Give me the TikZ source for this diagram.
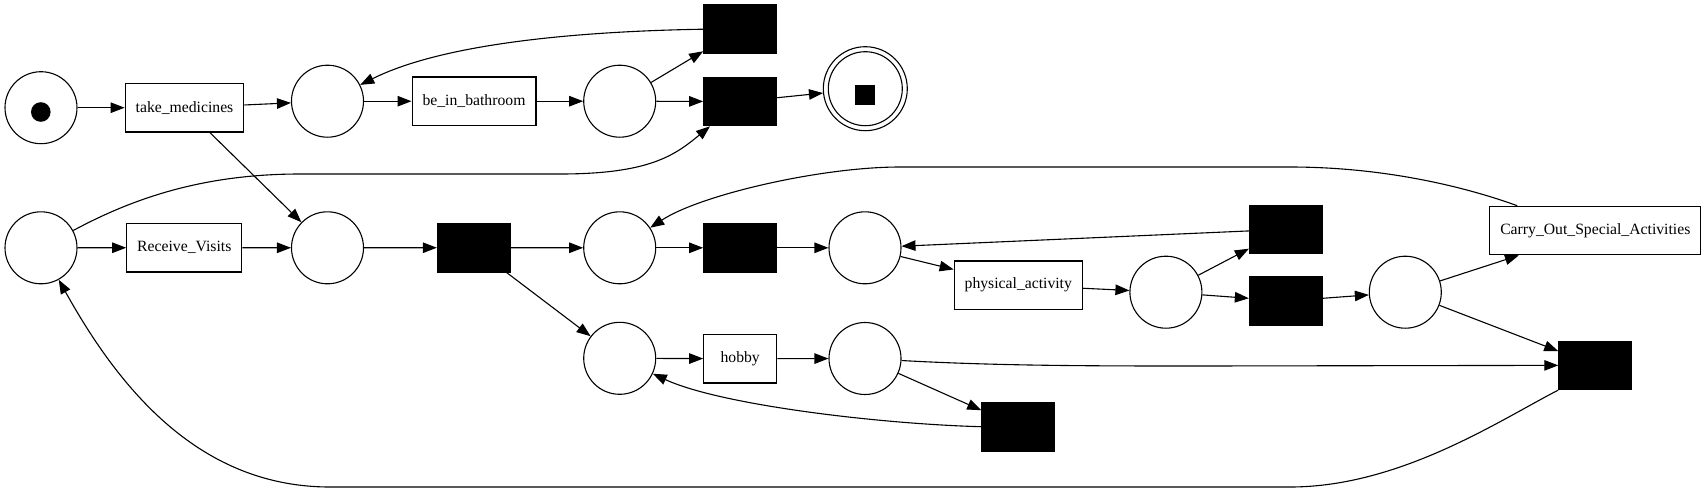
\documentclass[tikz,border=0pt]{standalone}
\usepackage{fontspec}
\setmainfont{Liberation Serif}
\usetikzlibrary{arrows.meta}
\begin{document}
\begin{tikzpicture}[x=1pt,y=-1pt,
  every node/.style={font=\fontsize{15.7}{18}\selectfont},
  place/.style={circle,draw,line width=1.1pt,minimum size=72pt,inner sep=0pt},
  trans/.style={rectangle,draw,line width=1.1pt,minimum width=73pt,minimum height=48.5pt,inner xsep=10.5pt,inner ysep=0pt},
  blk/.style={rectangle,draw,fill=black,line width=1.1pt,minimum width=73pt,minimum height=48.5pt,inner sep=0pt},
  arr/.style={-{Triangle[length=14pt,width=10.5pt]},line width=1.1pt}]
\useasboundingbox (0,0) rectangle (1707,493);
% places
\node[place] (ps) at (41,107.7) {};
\node[place] (p1) at (327.5,101.2) {};
\node[place] (p2) at (619.7,101.2) {};
\node[circle,draw,line width=1.1pt,minimum size=84pt,inner sep=0pt] (pe) at (865.3,88.7) {};
\node[place] (pl) at (41,247.8) {};
\node[place] (p3) at (327.5,247.8) {};
\node[place] (p4) at (619.7,247.8) {};
\node[place] (p5) at (865,247.8) {};
\node[place] (p6) at (1165.9,292.2) {};
\node[place] (p7) at (1405.3,292.2) {};
\node[place] (p8) at (619.7,358.3) {};
\node[place] (p9) at (865,358.5) {};
% tokens
\fill (40.8,112) circle (9.8pt);
\draw[line width=1.1pt] (pe.center) circle (37pt);
\fill (855.3,85) rectangle (875.3,105);
% transitions
\node[trans] (tm) at (184.5,107.7) {take\_medicines};
\node[trans] (bb) at (474,101.2) {be\_in\_bathroom};
\node[blk] (tt1) at (740.2,29.2) {};
\node[blk] (tt2) at (740.2,101.5) {};
\node[trans] (rv) at (184.3,247.7) {Receive\_Visits};
\node[blk] (tm1) at (473.9,247.7) {};
\node[blk] (tm2) at (740.2,247.8) {};
\node[blk] (tr1) at (1285.9,229.3) {};
\node[trans] (pa) at (1018.3,285.2) {physical\_activity};
\node[blk] (tr2) at (1285.9,301) {};
\node[trans] (co) at (1595.3,230.5) {Carry\_Out\_Special\_Activities};
\node[blk] (tr3) at (1595.3,365.3) {};
\node[trans] (hb) at (740.2,358.7) {hobby};
\node[blk] (tb) at (1018.3,426.7) {};
% arcs
\draw[arr] (ps) -- (tm);
\draw[arr] (tm) -- (p1);
\draw[arr] (tm) -- (p3);
\draw[arr] (p1) -- (bb);
\draw[arr] (bb) -- (p2);
\draw[arr] (p2) -- (tt1);
\draw[arr] (p2) -- (tt2);
\draw[arr] (tt1.west) .. controls (600,31) and (450,40) .. (p1);
\draw[arr] (tt2) -- (pe);
\draw[arr] (pl) .. controls (130,200) and (200,174) .. (300,174) -- (560,174) .. controls (650,174) and (675,155) .. (tt2);
\draw[arr] (pl) -- (rv);
\draw[arr] (rv) -- (p3);
\draw[arr] (p3) -- (tm1);
\draw[arr] (tm1) -- (p4);
\draw[arr] (tm1) -- (p8);
\draw[arr] (p4) -- (tm2);
\draw[arr] (tm2) -- (p5);
\draw[arr] ([xshift=28pt]co.north west) .. controls (1460,185) and (1380,167) .. (1290,167) -- (900,167) .. controls (820,167) and (700,195) .. (p4);
\draw[arr] (tr1) -- (p5);
\draw[arr] (p5) -- (pa);
\draw[arr] (pa) -- (p6);
\draw[arr] (p6) -- (tr1);
\draw[arr] (p6) -- (tr2);
\draw[arr] (tr2) -- (p7);
\draw[arr] (p7) -- (co);
\draw[arr] (p7) -- (tr3);
\draw[arr] (p8) -- (hb);
\draw[arr] (hb) -- (p9);
\draw[arr] (p9) .. controls (1000,366) and (1100,366) .. (1200,366) -- (tr3);
\draw[arr] (p9) -- (tb);
\draw[arr] (tb.west) .. controls (880,424) and (720,405) .. (p8);
\draw[arr] (tr3.south west) .. controls (1500,420) and (1400,487) .. (1290,487) -- (330,487) .. controls (200,487) and (120,390) .. (pl);
\end{tikzpicture}
\end{document}
